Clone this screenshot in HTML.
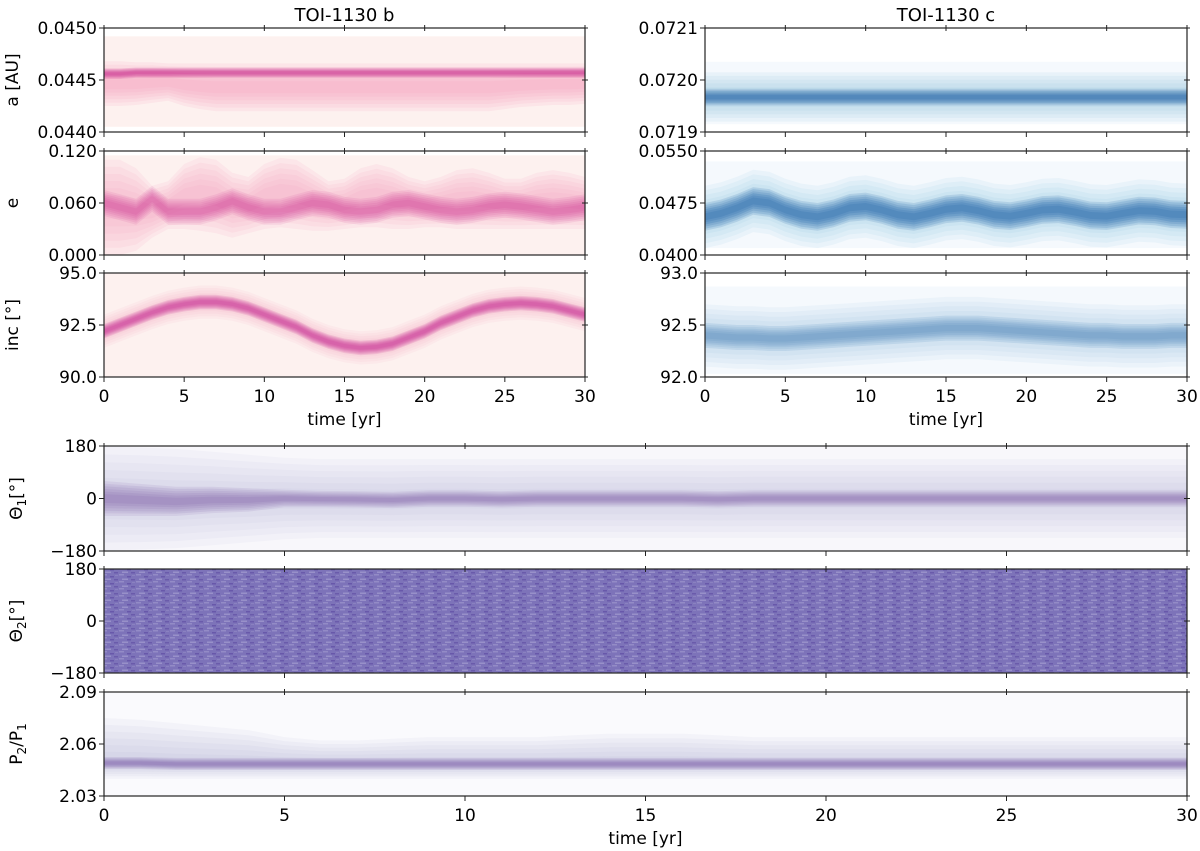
<!DOCTYPE html>
<html><head><meta charset="utf-8"><style>
html,body{margin:0;padding:0;background:#fff;width:1200px;height:851px;overflow:hidden}
svg text{font-family:"DejaVu Sans","Liberation Sans",sans-serif;fill:#000}
</style></head><body>
<svg id="fig" width="1200" height="851" viewBox="0 0 1200 851" xmlns="http://www.w3.org/2000/svg">
<defs>
<pattern id="noise" width="17" height="7" patternUnits="userSpaceOnUse">
<rect width="17" height="7" fill="#7d73b9"/>
<rect x="0" y="0" width="5" height="1.5" fill="#938bc6"/>
<rect x="8" y="2" width="4" height="1.5" fill="#6858aa"/>
<rect x="3" y="4.5" width="6" height="1.5" fill="#9890c9"/>
<rect x="12" y="5" width="4" height="1.5" fill="#6a5bab"/>
<rect x="13" y="1" width="3" height="1" fill="#8a81c0"/>
</pattern>
</defs>
</svg>
<script>
// ---- data ----
const T = [0,1,2,3,4,5,6,7,8,9,10,11,12,13,14,15,16,17,18,19,20,21,22,23,24,25,26,27,28,29,30];
const xTicks = [0,5,10,15,20,25,30];

const abCenter = [0.04456,0.04456,0.04457,0.04457,0.04457,0.04457,0.04457,0.04457,0.04457,0.04457,0.04457,0.04457,0.04457,0.04457,0.04457,0.04457,0.04457,0.04457,0.04457,0.04457,0.04457,0.04457,0.04457,0.04457,0.04457,0.04457,0.04457,0.04457,0.04457,0.04457,0.04457];
const abBroadLo = [0.04425,0.04425,0.04426,0.04428,0.0443,0.04425,0.04422,0.0442,0.0442,0.0442,0.0442,0.0442,0.0442,0.0442,0.0442,0.0442,0.0442,0.0442,0.0442,0.0442,0.0442,0.0442,0.0442,0.0442,0.0442,0.04422,0.04424,0.04425,0.04426,0.04426,0.04427];
const abBroadHi = [0.04468,0.04468,0.04467,0.04467,0.04466,0.04466,0.04466,0.04466,0.04466,0.04466,0.04466,0.04466,0.04466,0.04466,0.04466,0.04466,0.04466,0.04466,0.04466,0.04466,0.04466,0.04466,0.04466,0.04466,0.04466,0.04466,0.04466,0.04466,0.04466,0.04466,0.04466];

const ebUpper = [0.11,0.11,0.10,0.08,0.085,0.105,0.113,0.11,0.095,0.09,0.105,0.112,0.11,0.098,0.085,0.088,0.1,0.105,0.1,0.09,0.085,0.09,0.098,0.1,0.095,0.088,0.088,0.095,0.098,0.095,0.09];
const ebLower = [0.0,0.0,0.005,0.02,0.03,0.03,0.028,0.025,0.02,0.025,0.03,0.032,0.03,0.028,0.028,0.03,0.032,0.032,0.03,0.03,0.032,0.032,0.03,0.03,0.03,0.03,0.03,0.03,0.03,0.03,0.03];
const ebCenter = [0.06,0.055,0.05,0.065,0.05,0.05,0.05,0.055,0.062,0.055,0.05,0.05,0.055,0.06,0.058,0.052,0.05,0.052,0.058,0.06,0.056,0.052,0.05,0.052,0.056,0.058,0.056,0.053,0.05,0.052,0.055];

const ibCenter = [92.2,92.5,92.8,93.1,93.35,93.5,93.6,93.6,93.5,93.3,93.0,92.7,92.4,92.0,91.7,91.5,91.4,91.45,91.6,91.9,92.2,92.6,92.9,93.2,93.4,93.5,93.55,93.5,93.4,93.2,93.0];

const acCenter = [0.071967,0.071967,0.071967,0.071967,0.071967,0.071967,0.071967,0.071967,0.071967,0.071967,0.071967,0.071967,0.071967,0.071967,0.071967,0.071967,0.071967,0.071967,0.071967,0.071967,0.071967,0.071967,0.071967,0.071967,0.071967,0.071967,0.071967,0.071967,0.071967,0.071967,0.071967];

const ecCenter = [0.0455,0.046,0.0468,0.0478,0.0475,0.0465,0.0458,0.0455,0.046,0.0468,0.047,0.0465,0.0458,0.0455,0.046,0.0466,0.0468,0.0464,0.0458,0.0456,0.046,0.0465,0.0466,0.0462,0.0457,0.0456,0.046,0.0464,0.0463,0.0459,0.0458];

const icCenter = [92.40,92.39,92.38,92.38,92.37,92.37,92.38,92.39,92.40,92.41,92.42,92.43,92.44,92.45,92.46,92.47,92.47,92.47,92.46,92.45,92.44,92.43,92.42,92.41,92.40,92.40,92.39,92.39,92.39,92.40,92.40];

const th1Center = [0,-5,-10,-5,-5,0,-2,-3,-5,0,0,-3,0,0,0,0,0,-3,0,0,0,0,0,0,0,0,0,0,0,0,0];
const th1Width = [60,55,50,45,40,30,28,28,28,28,28,28,28,28,28,28,28,28,28,28,28,28,28,28,28,28,28,28,28,28,28];
const th1BroadHi = [178,175,170,160,150,140,135,135,135,135,135,135,135,135,135,135,135,135,135,135,135,135,135,135,135,135,135,135,135,135,135];

const pCenter = [2.049,2.049,2.0485,2.0485,2.0485,2.0485,2.0485,2.0485,2.0485,2.0485,2.0485,2.0485,2.0485,2.0485,2.0485,2.0485,2.0485,2.0485,2.0485,2.0485,2.0485,2.0485,2.0485,2.0485,2.0485,2.0485,2.0485,2.0485,2.0485,2.0485,2.0485];
const pBroadHi = [2.075,2.074,2.072,2.07,2.068,2.064,2.062,2.062,2.063,2.064,2.064,2.064,2.064,2.065,2.066,2.066,2.066,2.065,2.064,2.064,2.064,2.064,2.064,2.064,2.064,2.064,2.064,2.064,2.064,2.064,2.064];

// ---- drawing ----
const NS = "http://www.w3.org/2000/svg";
const svg = document.getElementById('fig');
function mk(tag, attrs, parent){ const e=document.createElementNS(NS,tag); for(const k in attrs) e.setAttribute(k,attrs[k]); (parent||svg).appendChild(e); return e; }
function offset(a,d){ return a.map(v=>v+d); }

function panel(p){
  const g = mk('g',{});
  
  
  const sx = v => p.x + (v - 0)/(30 - 0)*p.w;
  const sy = v => p.y + p.h - (v - p.ymin)/(p.ymax - p.ymin)*p.h;
  const cp = mk('clipPath',{id:'c_'+p.name},g);
  mk('rect',{x:p.x,y:p.y,width:p.w,height:p.h},cp);
  const body = mk('g',{'clip-path':'url(#c_'+p.name+')'},g);
  if(p.bg){
    const r = mk('rect',{x:p.x,y:sy(p.bg[1]),width:p.w,height:sy(p.bg[0])-sy(p.bg[1]),fill:p.bg[2]},body);
    
    
  }
  (p.bands||[]).forEach((b,bi)=>{
    const fr = b.fracs || [1,0.85,0.7,0.55,0.4,0.25];
    fr.forEach(f=>{
      let up='',dn='';
      T.forEach((t,i)=>{
        const mid = b.mid ? b.mid[i] : (b.lo[i]+b.hi[i])/2;
        up += (i?'L':'M')+sx(t).toFixed(1)+','+sy(mid+f*(b.hi[i]-mid)).toFixed(1);
      });
      for(let i=T.length-1;i>=0;i--){
        const mid = b.mid ? b.mid[i] : (b.lo[i]+b.hi[i])/2;
        dn += 'L'+sx(T[i]).toFixed(1)+','+sy(mid-f*(mid-b.lo[i])).toFixed(1);
      }
      const pa = mk('path',{d:up+dn+'Z',fill:b.color,'fill-opacity':b.op},body);
      
      
    });
  });
  if(p.pattern){ mk('rect',{x:p.x,y:p.y,width:p.w,height:p.h,fill:'url(#noise)'},body); }
  const fr = mk('rect',{x:p.x,y:p.y,width:p.w,height:p.h,fill:'none',stroke:'#222','stroke-width':1.2},g);
  
  
  xTicks.forEach(v=>{
    const X=sx(v);
    mk('line',{x1:X,x2:X,y1:p.y+p.h,y2:p.y+p.h+5,stroke:'#222'},g);
    mk('line',{x1:X,x2:X,y1:p.y-3,y2:p.y+3,stroke:'#222'},g);
    if(p.xlab){
      const t=mk('text',{x:X,y:p.y+p.h+25,'font-size':17,'text-anchor':'middle'},g); t.textContent=v;
      
      
    }
  });
  p.yt.forEach((v,i)=>{
    const Y=sy(v);
    mk('line',{x1:p.x-5,x2:p.x,y1:Y,y2:Y,stroke:'#222'},g);
    mk('line',{x1:p.x+p.w-3,x2:p.x+p.w+3,y1:Y,y2:Y,stroke:'#222'},g);
    const t=mk('text',{x:p.x-7,y:Y+6,'font-size':17,'text-anchor':'end'},g); t.textContent=p.ytl[i];
    
    
  });
  if(p.ylabel){
    const t=mk('text',{transform:`translate(${p.lx},${p.y+p.h/2}) rotate(-90)`,'font-size':17,'text-anchor':'middle'},g);
    t.innerHTML=p.ylabel;
    
    
  }
  if(p.xtitle){
    const t=mk('text',{x:p.x+p.w/2,y:p.y+p.h+48,'font-size':17,'text-anchor':'middle'},g); t.textContent='time [yr]';
    
    
  }
}

const PK='#c51b8a', PKL='#f59bbd', BL='#08519c', BLL='#6baed6', PU='#54278f', PUL='#9e9ac8';
const LX=104, LW=481, RX=705, RW=482;
const flat = (v)=>T.map(()=>v);

panel({name:'panel-a-b',x:LX,y:28,w:LW,h:104,ymin:0.0440,ymax:0.0450,yt:[0.0440,0.0445,0.0450],ytl:['0.0440','0.0445','0.0450'],
  ylabel:'a [AU]',lx:18,bg:[0.04405,0.04492,'#fdf1ef'],
  bands:[{lo:abBroadLo,hi:abBroadHi,color:PKL,op:0.13},{lo:offset(abCenter,-0.00005),hi:offset(abCenter,0.00005),mid:abCenter,color:PK,op:0.14}]});
panel({name:'panel-e-b',x:LX,y:151,w:LW,h:104,ymin:0,ymax:0.12,yt:[0,0.06,0.12],ytl:['0.000','0.060','0.120'],
  ylabel:'e',lx:18,bg:[0,0.115,'#fdf1ef'],
  bands:[{lo:ebLower,hi:ebUpper,color:PKL,op:0.12},{lo:offset(ebCenter,-0.015),hi:offset(ebCenter,0.015),mid:ebCenter,color:PK,op:0.09}]});
panel({name:'panel-inc-b',x:LX,y:273,w:LW,h:104,ymin:90,ymax:95,yt:[90,92.5,95],ytl:['90.0','92.5','95.0'],
  ylabel:'inc [°]',lx:18,bg:[90,95,'#fdf1ef'],xlab:true,xtitle:true,
  bands:[{lo:offset(ibCenter,-0.8),hi:offset(ibCenter,0.8),mid:ibCenter,color:PKL,op:0.09},{lo:offset(ibCenter,-0.35),hi:offset(ibCenter,0.35),mid:ibCenter,color:PK,op:0.13}]});

panel({name:'panel-a-c',x:RX,y:28,w:RW,h:104,ymin:0.0719,ymax:0.0721,yt:[0.0719,0.0720,0.0721],ytl:['0.0719','0.0720','0.0721'],
  bg:[0.071915,0.072035,'#f5f9fd'],
  bands:[{lo:flat(0.07192),hi:flat(0.072015),mid:acCenter,color:BLL,op:0.09},{lo:offset(acCenter,-0.000016),hi:offset(acCenter,0.000016),mid:acCenter,color:BL,op:0.13}]});
panel({name:'panel-e-c',x:RX,y:151,w:RW,h:104,ymin:0.040,ymax:0.055,yt:[0.040,0.0475,0.055],ytl:['0.0400','0.0475','0.0550'],
  bg:[0.041,0.0535,'#f5f9fd'],
  bands:[{lo:offset(ecCenter,-0.0045),hi:offset(ecCenter,0.0045),mid:ecCenter,color:BLL,op:0.08},{lo:offset(ecCenter,-0.002),hi:offset(ecCenter,0.002),mid:ecCenter,color:BL,op:0.13}]});
panel({name:'panel-inc-c',x:RX,y:273,w:RW,h:104,ymin:92,ymax:93,yt:[92,92.5,93],ytl:['92.0','92.5','93.0'],
  bg:[92.03,92.87,'#f5f9fd'],xlab:true,xtitle:true,
  bands:[{lo:offset(icCenter,-0.3),hi:offset(icCenter,0.3),mid:icCenter,color:BLL,op:0.07},{lo:offset(icCenter,-0.12),hi:offset(icCenter,0.12),mid:icCenter,color:BL,op:0.07}]});

const BX=104, BW=1083;
panel({name:'panel-theta1',x:BX,y:446,w:BW,h:105,ymin:-180,ymax:180,yt:[-180,0,180],ytl:['−180','0','180'],
  ylabel:'Θ<tspan font-size="12" dy="4">1</tspan><tspan dy="-4">[°]</tspan>',lx:22,bg:[-180,180,'#f8f7fb'],
  bands:[{lo:th1BroadHi.map(v=>-v),hi:th1BroadHi,mid:th1Center,color:PUL,op:0.06},{lo:th1Center.map((c,i)=>c-th1Width[i]),hi:th1Center.map((c,i)=>c+th1Width[i]),mid:th1Center,color:PU,op:0.08}]});
panel({name:'panel-theta2',x:BX,y:569,w:BW,h:104,ymin:-180,ymax:180,yt:[-180,0,180],ytl:['−180','0','180'],
  ylabel:'Θ<tspan font-size="12" dy="4">2</tspan><tspan dy="-4">[°]</tspan>',lx:22,pattern:true});
panel({name:'panel-period-ratio',x:BX,y:692,w:BW,h:104,ymin:2.03,ymax:2.09,yt:[2.03,2.06,2.09],ytl:['2.03','2.06','2.09'],
  ylabel:'P<tspan font-size="12" dy="4">2</tspan><tspan dy="-4">/P</tspan><tspan font-size="12" dy="4">1</tspan>',lx:22,bg:[2.03,2.09,'#fafafd'],xlab:true,xtitle:true,
  bands:[{lo:flat(2.040),hi:pBroadHi,mid:pCenter,color:PUL,op:0.07},{lo:offset(pCenter,-0.0035),hi:offset(pCenter,0.0035),mid:pCenter,color:PU,op:0.09}]});

const t1=mk('text',{x:LX+LW/2,y:21,'font-size':18,'text-anchor':'middle'}); t1.textContent='TOI-1130 b';


const t2=mk('text',{x:RX+RW/2,y:21,'font-size':18,'text-anchor':'middle'}); t2.textContent='TOI-1130 c';


</script>
</body></html>
